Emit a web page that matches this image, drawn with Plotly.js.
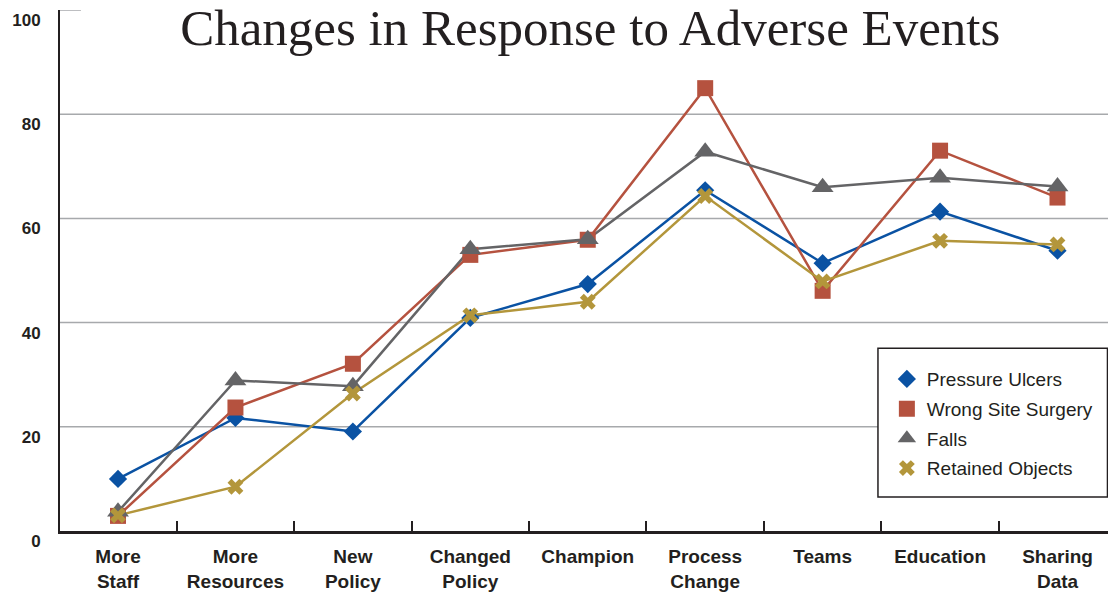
<!DOCTYPE html>
<html>
<head>
<meta charset="utf-8">
<script src="https://cdn.plot.ly/plotly-3.0.1.min.js"></script>
<style>html,body{margin:0;padding:0;background:#fff;}#chart{width:1108px;height:592px;}</style>
</head>
<body>
<div id="chart"></div>
<script>
const categories = ["More<br>Staff", "More<br>Resources", "New<br>Policy", "Changed<br>Policy", "Champion", "Process<br>Change", "Teams", "Education", "Sharing<br>Data"];
const pressureUlcers = [10, 21.7, 19.1, 40.9, 47.4, 65.4, 51.4, 61.3, 53.8];
const wrongSiteSurgery = [2.9, 23.7, 32.1, 53.0, 55.9, 85.0, 46.1, 73.0, 64.0];
const falls = [3.7, 28.9, 27.8, 54.1, 56.0, 72.8, 66.0, 67.8, 66.1];
const retainedObjects = [3.0, 8.5, 26.4, 41.4, 44.0, 64.3, 47.9, 55.7, 55.0];
const yTicks = [0, 20, 40, 60, 80, 100];
const gridValues = [20, 40, 60, 80];

const seriesDefs = [
  {name: "Pressure Ulcers", y: pressureUlcers, color: "#0a52a3", symbol: "diamond", size: 14},
  {name: "Wrong Site Surgery", y: wrongSiteSurgery, color: "#b5523f", symbol: "square", size: 16},
  {name: "Falls", y: falls, color: "#646466", symbol: "triangle-up", size: 19},
  {name: "Retained Objects", y: retainedObjects, color: "#b3963b", symbol: "x", size: 14}
];

const traces = [];
seriesDefs.forEach(s => {
  traces.push({x: categories, y: s.y, type: "scatter", mode: "lines", name: s.name,
    line: {color: s.color, width: 2.5}, showlegend: false, hoverinfo: "skip"});
});
seriesDefs.forEach((s, i) => {
  traces.push({x: categories, y: s.y, type: "scatter", mode: "markers", name: s.name,
    legendgroup: "g" + i,
    marker: {color: s.color, symbol: s.symbol, size: s.size, line: {width: 0}}});
});

const shapes = gridValues.map(v => ({type: "line", xref: "paper", yref: "y", x0: 0, x1: 1, y0: v, y1: v,
  line: {color: "#a7a9ac", width: 1.5}, layer: "below"}));
shapes.push({type: "line", xref: "paper", yref: "y", x0: 0, x1: 0.02, y0: 100, y1: 100,
  line: {color: "#a7a9ac", width: 1.5}, layer: "below"});
// legend frame
shapes.push({type: "rect", xref: "paper", yref: "paper", x0: 0.7805, x1: 0.9995, y0: 0.0653, y1: 0.351,
  fillcolor: "#ffffff", line: {color: "#231f20", width: 1.5}, layer: "above"});

const layout = {
  width: 1108, height: 592,
  margin: {l: 60, r: 0, t: 10, b: 61, pad: 0},
  paper_bgcolor: "#ffffff", plot_bgcolor: "#ffffff",
  title: {text: "Changes in Response to Adverse Events", font: {family: "Liberation Serif", size: 51, color: "#231f20"},
    x: 0.506, xanchor: "center", xref: "paper", yref: "container", y: 0.955, yanchor: "middle"},
  xaxis: {type: "category", range: [-0.494, 8.43], tickson: "boundaries", ticks: "inside", ticklen: 10, tickwidth: 2,
    tickcolor: "#231f20", showline: true, linewidth: 3, linecolor: "#231f20", showgrid: false, zeroline: false,
    ticklabelstandoff: 6,
    tickfont: {family: "Liberation Sans", size: 19, color: "#231f20", weight: 700}},
  yaxis: {range: [0, 100], tickvals: yTicks, ticks: "", showgrid: false, zeroline: false, showline: true,
    linewidth: 2, linecolor: "#231f20", ticklabelshift: 10, ticklabelstandoff: 14,
    tickfont: {family: "Liberation Sans", size: 17, color: "#231f20", weight: 700}},
  legend: {x: 0.789, y: 0.328, xanchor: "left", yanchor: "top", bgcolor: "rgba(0,0,0,0)",
    borderwidth: 0, font: {family: "Liberation Sans", size: 19, color: "#231f20"}, traceorder: "grouped",
    tracegroupgap: 2},
  shapes: shapes,
  showlegend: true
};

Plotly.newPlot("chart", traces, layout, {displayModeBar: false, responsive: false});
</script>
</body>
</html>
